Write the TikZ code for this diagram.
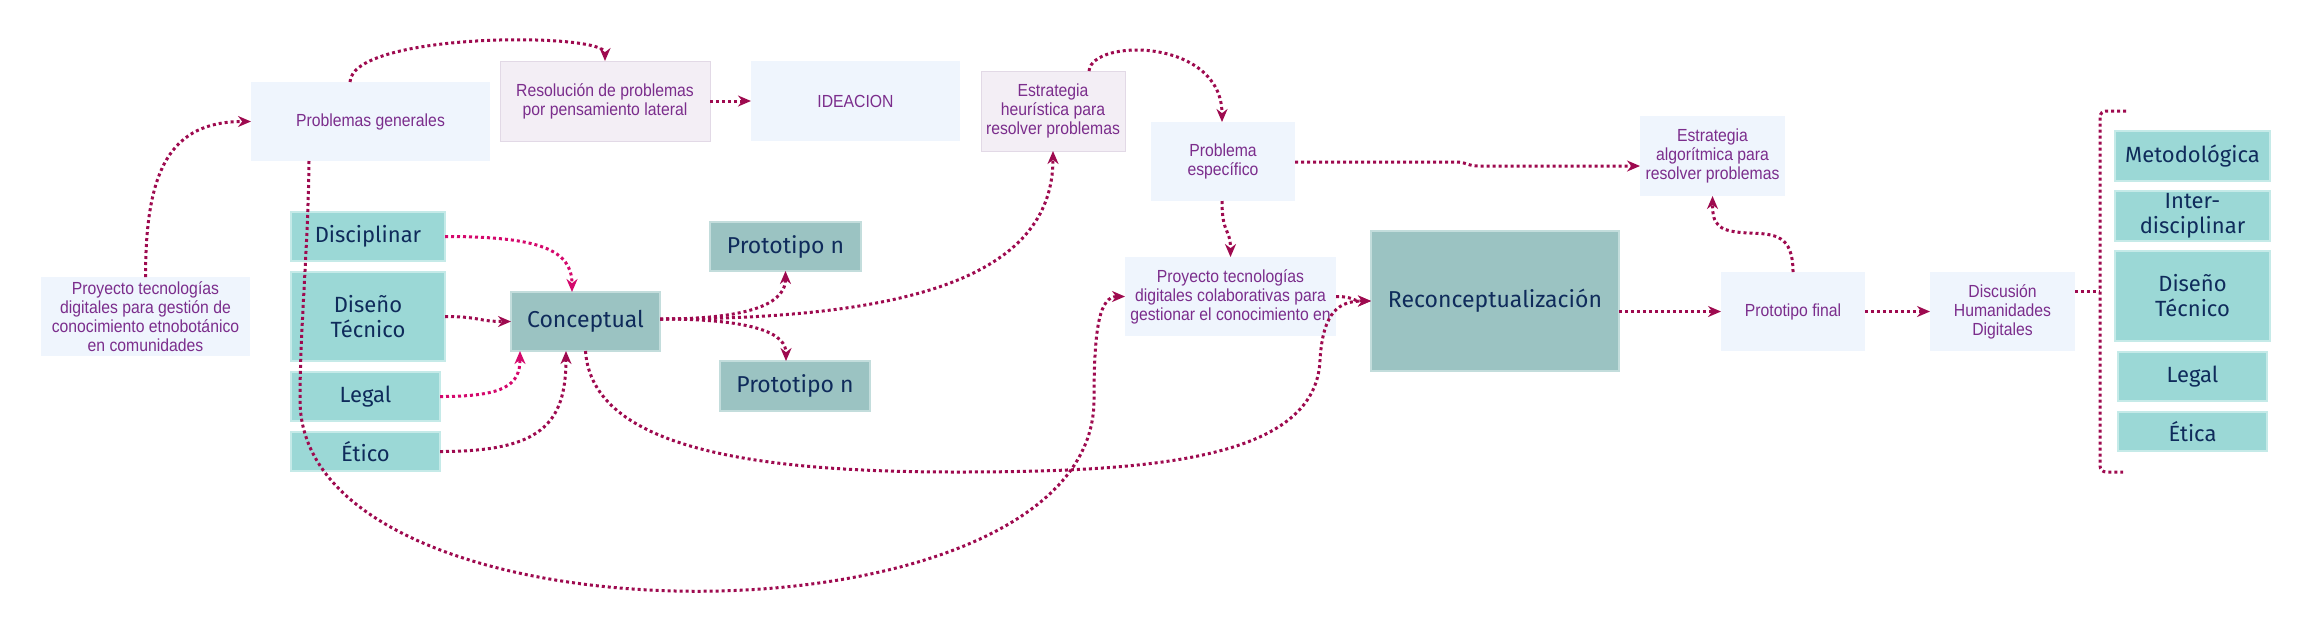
\documentclass[tikz,border=0pt]{standalone}
\usepackage{fontspec}
\setmainfont{Liberation Sans}
\newfontfamily\pfont[FakeStretch=0.9]{Liberation Sans}
\newfontfamily\tfont{Fira Sans}
\usetikzlibrary{arrows.meta}
\definecolor{lblue}{HTML}{EFF5FD}
\definecolor{lav}{HTML}{F3EEF5}
\definecolor{lavline}{HTML}{E2D9E6}
\definecolor{tealA}{HTML}{9BD8D6}
\definecolor{tealAline}{HTML}{C5EAE8}
\definecolor{tealB}{HTML}{9BC3C2}
\definecolor{tealBline}{HTML}{C3DDDC}
\definecolor{ptxt}{HTML}{7B2D8C}
\definecolor{ntxt}{HTML}{0F2B5B}
\definecolor{crim}{HTML}{9E0A4F}
\definecolor{pinkc}{HTML}{D4086C}
\begin{document}
\begin{tikzpicture}[x=1pt,y=-1pt,
  box/.style={inner sep=0pt, outer sep=0pt, align=center},
  bl/.style={box, fill=lblue, text=ptxt, font=\pfont\fontsize{17.5}{19}\selectfont},
  lv/.style={box, fill=lav, draw=lavline, line width=1pt, text=ptxt, font=\pfont\fontsize{17.5}{19}\selectfont},
  tb/.style={box, fill=tealA, draw=tealAline, line width=1.5pt, text=ntxt, font=\tfont\fontsize{22}{25}\selectfont},
  gb/.style={box, fill=tealB, draw=tealBline, line width=1.5pt, text=ntxt, font=\tfont\fontsize{23}{26}\selectfont},
  plain/.style={draw=crim, line width=3pt, dash pattern=on 3pt off 3pt},
  link/.style={plain, -{Stealth[length=13pt,width=11pt]}},
  linkp/.style={link, draw=pinkc}
]
\useasboundingbox (0,0) rectangle (2314,633);
% nodes
\node[bl, minimum width=239pt, minimum height=79pt] (pg) at (370.5,121.5) {Problemas generales};
\node[lv, minimum width=210pt, minimum height=80pt] (res) at (605,101) {Resolución de problemas\\por pensamiento lateral};
\node[bl, minimum width=209pt, minimum height=80pt] (idea) at (855.5,101) {IDEACION};
\node[lv, minimum width=144pt, minimum height=80pt] (heu) at (1053,111) {Estrategia\\heurística para\\resolver problemas};
\node[bl, minimum width=144pt, minimum height=79pt] (pe) at (1223,161.5) {Problema\\específico};
\node[bl, minimum width=211pt, minimum height=79pt] (pcol) at (1230.5,296.5) {Proyecto tecnologías\\digitales colaborativas para\\gestionar el conocimiento en};
\node[gb, minimum width=248pt, minimum height=140pt] (rec) at (1495,301) {Reconceptualización};
\node[bl, minimum width=145pt, minimum height=80pt] (alg) at (1712.5,156) {Estrategia\\algorítmica para\\resolver problemas};
\node[bl, minimum width=144pt, minimum height=79pt] (pf) at (1793,311.5) {Prototipo final};
\node[bl, minimum width=145pt, minimum height=79pt] (dhd) at (2002.5,311.5) {Discusión\\Humanidades\\Digitales};
\node[tb, minimum width=155pt, minimum height=50pt] (met) at (2192.5,156) {Metodológica};
\node[tb, minimum width=155pt, minimum height=50pt] (inter) at (2192.5,216) {Inter-\\disciplinar};
\node[tb, minimum width=155pt, minimum height=90pt] (dt2) at (2192.5,296) {Diseño\\Técnico};
\node[tb, minimum width=149pt, minimum height=49pt] (leg2) at (2192.5,376.5) {Legal};
\node[tb, minimum width=149pt, minimum height=39pt] (eti2) at (2192.5,431.5) {Ética};
\node[bl, minimum width=209pt, minimum height=79pt] (ptl) at (145.5,316.5) {Proyecto tecnologías\\digitales para gestión de\\conocimiento etnobotánico\\en comunidades};
\node[tb, minimum width=154pt, minimum height=49pt] (dis) at (368,236.5) {Disciplinar};
\node[tb, minimum width=154pt, minimum height=89pt] (dt) at (368,316.5) {Diseño\\Técnico};
\node[tb, minimum width=149pt, minimum height=49pt] (leg) at (365.5,396.5) {Legal};
\node[tb, minimum width=149pt, minimum height=39pt] (eti) at (365.5,451.5) {Ético};
\node[gb, minimum width=149pt, minimum height=59pt] (con) at (585.5,321.5) {Conceptual};
\node[gb, minimum width=151pt, minimum height=49pt] (p1) at (785.5,246.5) {Prototipo n};
\node[gb, minimum width=150pt, minimum height=50pt] (p2) at (795,386) {Prototipo n};
\coordinate (brm) at (2100,291);
\coordinate (brt) at (2126,111);
\coordinate (brb) at (2123,472);
% connectors
\draw[link] (ptl.north) .. controls (145.5,170) and (170,121.5) .. (pg.west);
\draw[link] ([xshift=-20.5pt]pg.north) .. controls (352,32) and (605,32) .. (res.north);
\draw[link] (res.east) -- (idea.west);
\draw[link] ([xshift=-61.5pt]pg.south) .. controls (308,250) and (300,330) .. (300,400)
   .. controls (300,655) and (1094,655) .. (1094,400)
   .. controls (1094,325) and (1100,296.5) .. (pcol.west);
\draw[linkp] (dis.east) .. controls (540,236.5) and (572,250) .. ([xshift=-13.5pt]con.north);
\draw[link] (dt.east) .. controls (480,316.5) and (478,321.5) .. (con.west);
\draw[linkp] (leg.east) .. controls (505,396.5) and (520,385) .. ([xshift=-65.5pt]con.south);
\draw[link] (eti.east) .. controls (540,451.5) and (566,425) .. ([xshift=-19.5pt]con.south);
\draw[link] ([yshift=2.5pt]con.east) .. controls (760,319) and (785.5,300) .. (p1.south);
\draw[link] ([yshift=2.5pt]con.east) .. controls (760,319) and (786,335) .. ([xshift=-9pt]p2.north);
\draw[link] ([yshift=2.5pt]con.east) .. controls (900,319) and (1053,280) .. (heu.south);
\draw[link] (con.south) .. controls (592,450) and (760,472) .. (956,472)
   .. controls (1150,472) and (1316,460) .. (1320,360)
   .. controls (1323,310) and (1340,301) .. (rec.west);
\draw[link] ([xshift=36pt]heu.north) .. controls (1092,38) and (1222,38) .. ([xshift=-1pt]pe.north);
\draw[link] ([xshift=-1pt]pe.south) .. controls (1222,235) and (1230.5,228) .. (pcol.north);
\draw[link] ([yshift=-0.5pt]pe.east) -- (1455,162) .. controls (1468,162) and (1466,166) .. (1480,166) -- ([yshift=-10pt]alg.west);
\draw[link] (pcol.east) .. controls (1355,296.5) and (1350,301) .. (rec.west);
\draw[link] ([yshift=-10.5pt]rec.east) -- (pf.west);
\draw[link] (pf.east) -- (dhd.west);
\draw[link] (pf.north) .. controls (1793,235) and (1775,234) .. (1750,233)
   .. controls (1718,232) and (1712.5,225) .. (alg.south);
\draw[plain] ([yshift=20.5pt]dhd.east) -- (brm);
\draw[plain, rounded corners=6pt] (brt) -- (2100,111) -- (2100,472) -- (brb);
\end{tikzpicture}
\end{document}
